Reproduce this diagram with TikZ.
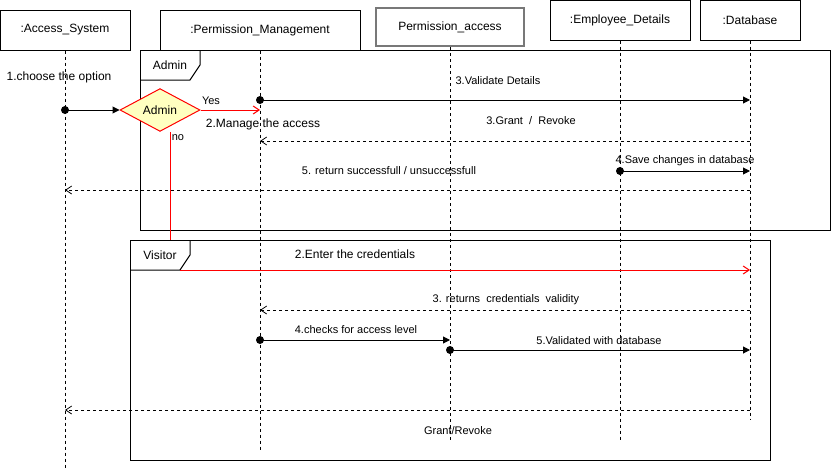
\documentclass[tikz,border=0pt]{standalone}
\usepackage{fontspec}
\setmainfont{Liberation Sans}
\usetikzlibrary{arrows.meta,shapes.geometric,positioning}
\definecolor{umlred}{RGB}{255,0,0}
\definecolor{umlyellow}{RGB}{255,255,192}
\definecolor{umlgray}{RGB}{120,120,120}
\tikzstyle{head} = [rectangle, draw, line width=1pt, minimum height=40pt, inner sep=0pt, font=\fontsize{12}{14}\selectfont]
\tikzstyle{lifeline} = [line width=0.8pt, dash pattern=on 3pt off 3pt]
\tikzstyle{frame} = [line width=1pt]
\tikzstyle{dot} = [circle, fill=black, inner sep=0pt, minimum size=8pt]
\tikzstyle{call} = [line width=1pt, -{Triangle[length=7pt,width=7pt]}]
\tikzstyle{ret} = [line width=0.8pt, dash pattern=on 3pt off 3pt, -{Straight Barb[length=6pt,width=8pt]}]
\tikzstyle{redcall} = [line width=1pt, color=umlred, -{Straight Barb[length=6pt,width=8pt]}]
\tikzstyle{lbl} = [inner sep=0pt, font=\fontsize{11}{13}\selectfont]
\tikzstyle{biglbl} = [inner sep=0pt, font=\fontsize{12}{14}\selectfont]

\begin{document}
\begin{tikzpicture}[x=1pt, y=-1pt]
\useasboundingbox (0,0) rectangle (831,471);
% lifeline heads
\node[head, minimum width=130pt] (as) at (65,30) {:Access\_System};
\node[head, minimum width=200pt] (pm) at (260,30) {:Permission\_Management};
\node[head, minimum width=148pt, minimum height=38pt, draw=umlgray, line width=2pt] (pa) at (450,27) {Permission\_access};
\node[head, minimum width=140pt] (ed) at (620,20) {:Employee\_Details};
\node[head, minimum width=100pt] (db) at (750,20) {:Database};
\coordinate (as end) at (65,470);
\coordinate (pm end) at (260,450);
\coordinate (pa end) at (450,440);
\coordinate (ed end) at (620,440);
\coordinate (db end) at (750,420);
\draw[lifeline] (as) -- (as end);
\draw[lifeline] (pm) -- (pm end);
\draw[lifeline] (pa) -- (pa end);
\draw[lifeline] (ed) -- (ed end);
\draw[lifeline] (db) -- (db end);

% admin frame
\draw[frame] (140,50) rectangle (830,230);
\draw[frame] (140,80) -- (190,80) -- (200,65) -- (200,50);
\node[biglbl] (admin) at (170,65) {Admin};
% visitor frame
\draw[frame] (130,240) rectangle (770,460);
\draw[frame] (130,270) -- (180,270) -- (190,255) -- (190,240);
\node[biglbl] (visitor) at (160,255) {Visitor};

% decision
\node[diamond, draw=umlred, fill=umlyellow, line width=1pt, minimum width=80pt, minimum height=40pt, inner sep=0pt, font=\fontsize{12}{14}\selectfont] (choice) at (160,110) {Admin};
\node[dot] (d1) at (65,110) {};
\node[biglbl] (m1) at (59,77) {1.choose the option};
\draw[call] (d1.center) -- (choice.west);
\coordinate (yes end) at (260,110);
\draw[redcall] (choice.east) -- (yes end);
\node[lbl] (yes) at (211,101) {Yes};
\node[biglbl] (m2) at (263,124) {2.Manage the access};
\coordinate (no end) at (170,240);
\draw[line width=1pt, umlred] (choice.south -| no end) -- (no end);
\node[lbl] (no) at (178,138) {no};

% admin messages
\node[dot] (d3) at (260,100) {};
\coordinate (m3 end) at (750,100);
\draw[call] (d3.center) -- (m3 end);
\node[lbl] (m3) at (498,81) {3.Validate Details};
\coordinate (g3 start) at (750,141);
\coordinate (g3 end) at (260,141);
\draw[ret] (g3 start) -- (g3 end);
\node[lbl] (g3) at (531,121) {3.Grant~ /~ Revoke};
\node[dot] (d4) at (620,171) {};
\coordinate (m4 end) at (750,171);
\draw[call] (d4.center) -- (m4 end);
\node[lbl] (m4) at (685,161) {4.Save changes in database};
\coordinate (r5 start) at (750,190);
\coordinate (r5 end) at (65,190);
\draw[ret] (r5 start) -- (r5 end);
\node[lbl] (r5) at (389,171) {5. return successfull / unsuccessfull};

% visitor messages
\coordinate (v2 start) at (180,270);
\coordinate (v2 end) at (750,270);
\draw[redcall] (v2 start) -- (v2 end);
\node[biglbl] (v2) at (355,254) {2.Enter the credentials};
\coordinate (v3 start) at (750,310);
\coordinate (v3 end) at (260,310);
\draw[ret] (v3 start) -- (v3 end);
\node[lbl] (v3) at (506,300) {3. returns~ credentials~ validity};
\node[dot] (d5) at (260,340) {};
\coordinate (v4 end) at (450,340);
\draw[call] (d5.center) -- (v4 end);
\node[lbl] (v4) at (356,330) {4.checks for access level};
\node[dot] (d6) at (450,350) {};
\coordinate (v5 end) at (750,350);
\draw[call] (d6.center) -- (v5 end);
\node[lbl] (v5) at (599,341) {5.Validated with database};
\coordinate (v6 start) at (750,410);
\coordinate (v6 end) at (65,410);
\draw[ret] (v6 start) -- (v6 end);
\node[lbl] (v6) at (458,431) {Grant/Revoke};
\end{tikzpicture}
\end{document}
